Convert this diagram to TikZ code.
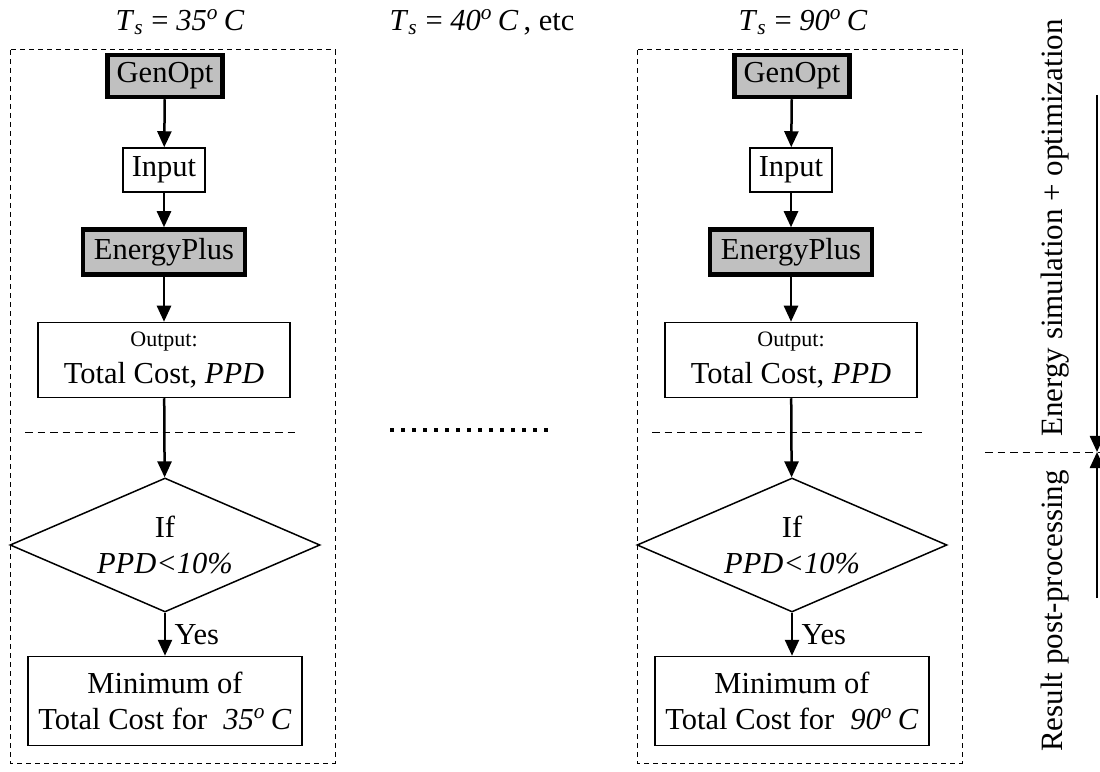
\documentclass[tikz,border=0pt]{standalone}
\usepackage{fontspec}
\setmainfont{Liberation Serif}
\usetikzlibrary{shapes,arrows.meta,positioning,calc}
\definecolor{boxgray}{RGB}{192,192,192}

\tikzset{
  plainbox/.style={draw, line width=0.6pt, inner sep=1pt, align=center},
  simbox/.style={draw, line width=1.8pt, fill=boxgray, inner sep=1pt, align=center},
  decision/.style={draw, diamond, line width=0.6pt, inner sep=0pt, aspect=2.3,
    minimum width=124pt, minimum height=53.6pt, align=center},
  flowarrow/.style={-{Triangle[length=6.4pt,width=5.6pt]}, line width=1pt},
  groupframe/.style={dashed, line width=0.4pt, dash pattern=on 2pt off 1.6pt},
  sepline/.style={dashed, line width=0.4pt, dash pattern=on 3pt off 2pt}
}

\begin{document}
\begin{tikzpicture}[x=0.4pt, y=-0.4pt, font=\fontsize{12.2}{14.5}\selectfont]
  \useasboundingbox (0,0) rectangle (1100,772);

  % titles
  \node (title35) at (180,22) {\textit{T}\textsubscript{\textit{s}} = \textit{35}\textsuperscript{\textit{o}}\,\textit{C}};
  \node (title40) at (482,22) {\textit{T}\textsubscript{\textit{s}} = \textit{40}\textsuperscript{\textit{o}}\,\textit{C}\,, etc};
  \node (title90) at (803,22) {\textit{T}\textsubscript{\textit{s}} = \textit{90}\textsuperscript{\textit{o}}\,\textit{C}};

  % the two flow charts
  \foreach \dx/\temp/\col in {0/35/l, 627/90/r} {
    \begin{scope}[shift={(\dx,0)}]
      \draw[groupframe] (10,50) rectangle (335,763);
      \node[simbox, minimum width=46pt, minimum height=16.8pt] (genopt\col) at (165,76) {GenOpt};
      \node[plainbox, minimum width=32.8pt, minimum height=17.6pt] (input\col) at (164,170) {Input};
      \node[simbox, minimum width=64.8pt, minimum height=18pt] (eplus\col) at (164,252) {EnergyPlus};
      \node[plainbox, minimum width=100.8pt, minimum height=30pt] (output\col) at (164,360)
        {{\fontsize{8.8}{10}\selectfont Output:}\\[0pt]Total Cost, \textit{PPD}};
      \draw[sepline] (25,432) -- (300,432);
      \node[decision] (check\col) at (165,545) {If\\\textit{PPD<10\%}};
      \node[plainbox, minimum width=109.6pt, minimum height=35.6pt] (minimum\col) at (165,701)
        {Minimum of\\Total Cost for \;\textit{\temp}\textsuperscript{\textit{o}}\,\textit{C}};

      \draw[flowarrow] (genopt\col) -- (input\col);
      \draw[flowarrow] (input\col) -- (eplus\col);
      \draw[flowarrow] (eplus\col) -- (output\col);
      \draw[flowarrow] (output\col) -- (check\col);
      \draw[flowarrow] (check\col) -- node[right] {Yes} (minimum\col);
    \end{scope}
  }

  % more temperatures in between
  \draw[line width=1.6pt, dash pattern=on 1.6pt off 2.8pt] (390,430) -- (555,430);

  % phases on the right
  \draw[sepline] (985,452) -- (1100,452);
  \coordinate (phasetop) at (1097,95);
  \coordinate (phasemid) at (1097,452);
  \coordinate (phasebot) at (1097,598);
  \draw[flowarrow] (phasetop) -- (phasemid);
  \draw[flowarrow] (phasebot) -- (phasemid);
  \node[rotate=90, font=\fontsize{12.4}{15}\selectfont] (simphase) at (1055,228) {Energy simulation + optimization};
  \node[rotate=90, font=\fontsize{12.4}{15}\selectfont] (postphase) at (1055,611) {Result post-processing};
\end{tikzpicture}
\end{document}
